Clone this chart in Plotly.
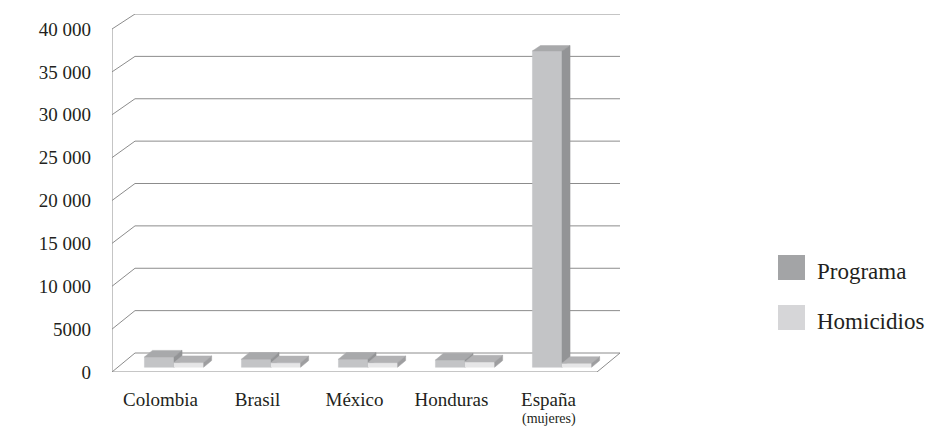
import plotly.graph_objects as go

# ---- data -------------------------------------------------------------
categories = ["Colombia", "Brasil", "México", "Honduras", "España"]
category_notes = ["", "", "", "", "(mujeres)"]
series_names = ["Programa", "Homicidios"]
programa = [1200, 950, 950, 850, 37000]
homicidios = [550, 530, 540, 620, 460]
y_tick_values = [0, 5000, 10000, 15000, 20000, 25000, 30000, 35000, 40000]
y_tick_labels = ["0", "5000", "10 000", "15 000", "20 000", "25 000",
                 "30 000", "35 000", "40 000"]

# ---- styling ----------------------------------------------------------
FONT = "Liberation Serif, Times New Roman, serif"
TEXT = "#231f20"
GRID = "#8c8c8c"
FACE = {
    "Programa": {"front": "#c3c4c6", "top": "#a8a9ab", "side": "#939496", "key": "#a3a4a6"},
    "Homicidios": {"front": "#e6e6e7", "top": "#b2b2b4", "side": "#9e9ea0", "key": "#d6d6d8"},
}

# ---- pseudo-3D projection ---------------------------------------------
# x in category slots, y in value units of the front plane, d = depth 0..1
Y_MAX = 40000
PLOT_W, PLOT_H = 508, 358          # plot area in pixels
FRONT_H = 343                      # pixel height of 0..40000 on the front plane
DEPTH_X = 23 / 97                  # depth shift in slot units
DEPTH_Y = 19 * Y_MAX / FRONT_H     # depth shift in value units
BACK_SCALE = 339 / 343             # perspective shrink of the back wall


def proj(x, v, d):
    return x + d * DEPTH_X, v * (1 - d * (1 - BACK_SCALE)) + d * DEPTH_Y


n = len(categories)
fig = go.Figure()

# walls and floor
shapes = []


def seg(p, q, color=GRID):
    shapes.append(dict(type="line", xref="x", yref="y", x0=p[0], y0=p[1],
                       x1=q[0], y1=q[1], layer="below",
                       line=dict(color=color, width=1)))


for v in y_tick_values:
    seg(proj(0, v, 0), proj(0, v, 1))
    seg(proj(0, v, 1), proj(n, v, 1))
seg(proj(0, 0, 0), proj(0, Y_MAX, 0))
seg(proj(0, 0, 0), proj(n, 0, 0))
seg(proj(n, 0, 0), proj(n, 0, 1))

# bars: front, top and side faces
BAR_START, BAR_W = 0.275, 0.305
D0, D1 = 0.25, 0.60


def add_face(pts, color):
    xs = [p[0] for p in pts] + [pts[0][0]]
    ys = [p[1] for p in pts] + [pts[0][1]]
    fig.add_trace(go.Scatter(x=xs, y=ys, mode="lines", fill="toself",
                             fillcolor=color, line=dict(color=color, width=0.5),
                             hoverinfo="skip", showlegend=False))


for i in range(n):
    for s, (name, values) in enumerate(zip(series_names, [programa, homicidios])):
        v = values[i]
        x0 = i + BAR_START + s * BAR_W
        x1 = x0 + BAR_W
        c = FACE[name]
        add_face([proj(x0, 0, D0), proj(x1, 0, D0), proj(x1, v, D0), proj(x0, v, D0)], c["front"])
        add_face([proj(x0, v, D0), proj(x1, v, D0), proj(x1, v, D1), proj(x0, v, D1)], c["top"])
        add_face([proj(x1, 0, D0), proj(x1, 0, D1), proj(x1, v, D1), proj(x1, v, D0)], c["side"])

# legend drawn beside the plot area
ML, MT = 112, 14
annotations = []
for k, name in enumerate(series_names):
    cy = 267.5 + 50 * k
    px0, px1 = 778, 805
    shapes.append(dict(type="rect", xref="paper", yref="paper",
                       x0=(px0 - ML) / PLOT_W, x1=(px1 - ML) / PLOT_W,
                       y0=(MT + PLOT_H - (cy + 12.5)) / PLOT_H,
                       y1=(MT + PLOT_H - (cy - 12.5)) / PLOT_H,
                       fillcolor=FACE[name]["key"], line=dict(width=0)))
    annotations.append(dict(xref="paper", yref="paper",
                            x=(815 - ML) / PLOT_W,
                            y=(MT + PLOT_H - (cy + 4)) / PLOT_H,
                            xanchor="left", yanchor="middle", showarrow=False,
                            text=name, font=dict(family=FONT, size=23, color=TEXT)))

# small second line under a category name
for i, note in enumerate(category_notes):
    if note:
        annotations.append(dict(xref="x", yref="paper", x=i + 0.5,
                                y=(MT + PLOT_H - 419) / PLOT_H,
                                xanchor="center", yanchor="middle", showarrow=False,
                                text=note, font=dict(family=FONT, size=14, color=TEXT)))

fig.update_layout(
    template="none",
    width=942, height=428,
    margin=dict(l=ML, r=942 - ML - PLOT_W, t=MT, b=428 - MT - PLOT_H),
    paper_bgcolor="white", plot_bgcolor="white",
    showlegend=False,
    shapes=shapes, annotations=annotations,
    xaxis=dict(range=[0, n + DEPTH_X], showgrid=False, zeroline=False,
               showline=False, tickmode="array", automargin=False,
               tickvals=[i + 0.5 for i in range(n)], ticktext=categories,
               ticks="", ticklabelstandoff=14,
               tickfont=dict(family=FONT, size=19, color=TEXT), fixedrange=True),
    yaxis=dict(range=[0, Y_MAX * PLOT_H / FRONT_H], showgrid=False,
               zeroline=False, showline=False, tickmode="array", automargin=False,
               tickvals=y_tick_values, ticktext=y_tick_labels,
               ticks="", ticklabelstandoff=20,
               tickfont=dict(family=FONT, size=19, color=TEXT), fixedrange=True),
)

fig.write_html("out.html")
